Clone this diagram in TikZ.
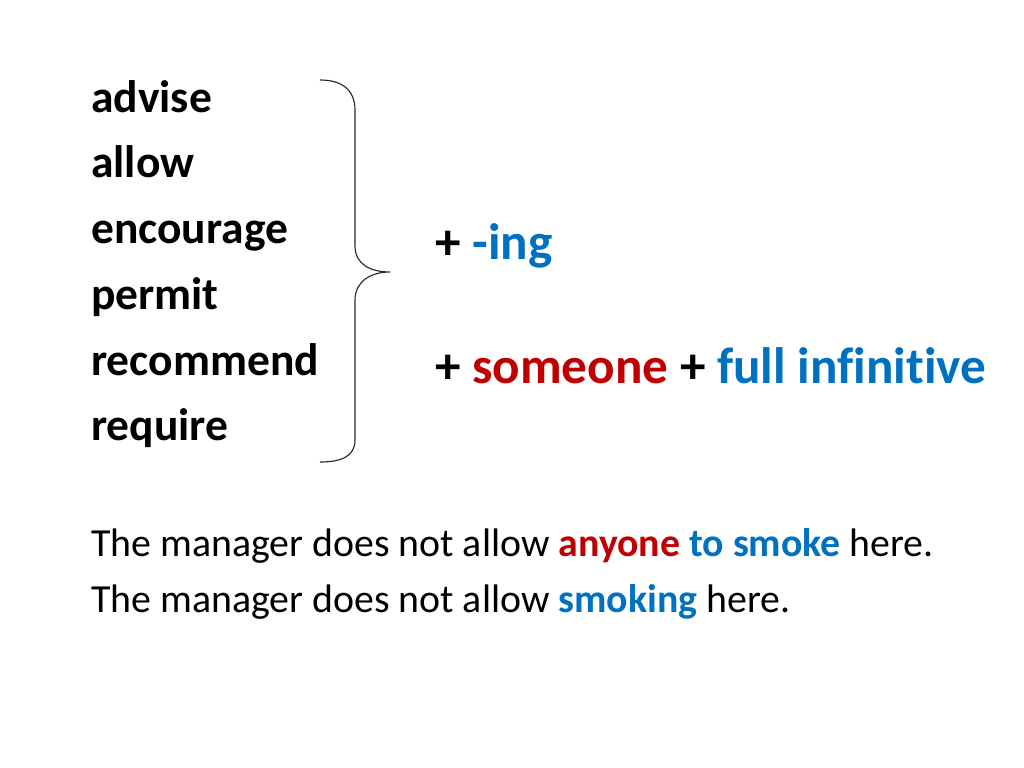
\documentclass[tikz,border=0pt]{standalone}
\usepackage{fontspec}
\setmainfont{Carlito}[Ligatures=CommonOff]
\usepackage{tikz}
\usepackage{xcolor}
\definecolor{RR}{RGB}{192, 0, 0}
\definecolor{BB}{RGB}{0, 112, 192}
\definecolor{GG}{RGB}{40, 40, 40}
\tikzset{
    verb/.style={anchor=base west, inner sep=0pt, font=\fontsize{32}{38}\selectfont\bfseries},
    rule/.style={anchor=base west, inner sep=0pt, font=\fontsize{36}{43}\selectfont\bfseries},
    sentence/.style={anchor=base west, inner sep=0pt, font=\fontsize{28}{34}\selectfont},
    brace/.style={draw=GG, line width=0.8pt},
}

\begin{document}
\begin{tikzpicture}[
  x=0.703125pt, y=-0.703125pt, % 1 unit = 1 pixel of the slide
  ]
\useasboundingbox (0,0) rectangle (1024,768);

% verbs
\node[verb] (advise) at (91,113) {advise};
\node[verb] (allow) at (91,178) {allow};
\node[verb] (encourage) at (91,244) {encourage};
\node[verb] (permit) at (91,309) {permit};
\node[verb] (recommend) at (91,375) {recommend};
\node[verb] (require) at (91,440) {require};

% brace
\coordinate (top) at (320,80);
\coordinate (tip) at (390,272);
\coordinate (bot) at (320,462);
\draw[brace] (top) .. controls (342,80) and (355,90) .. (355,110) -- (355,246)
    .. controls (355,264) and (370,272) .. (tip)
    .. controls (370,272) and (355,282) .. (355,300) -- (355,440)
    .. controls (355,456) and (342,462) .. (bot);

% patterns
\node[rule] (ing) at (435,260) {+ \textcolor{BB}{-ing}};
\node[rule] (inf) at (435,383) {+ \textcolor{RR}{someone} + \textcolor{BB}{full infinitive}};

% examples
\node[sentence] (ex1) at (91,556) {The manager does not allow \textbf{\textcolor{RR}{anyone} \textcolor{BB}{to smoke}} here.};
\node[sentence] (ex2) at (91,612) {The manager does not allow \textbf{\textcolor{BB}{smoking}} here.};

\end{tikzpicture}
\end{document}
